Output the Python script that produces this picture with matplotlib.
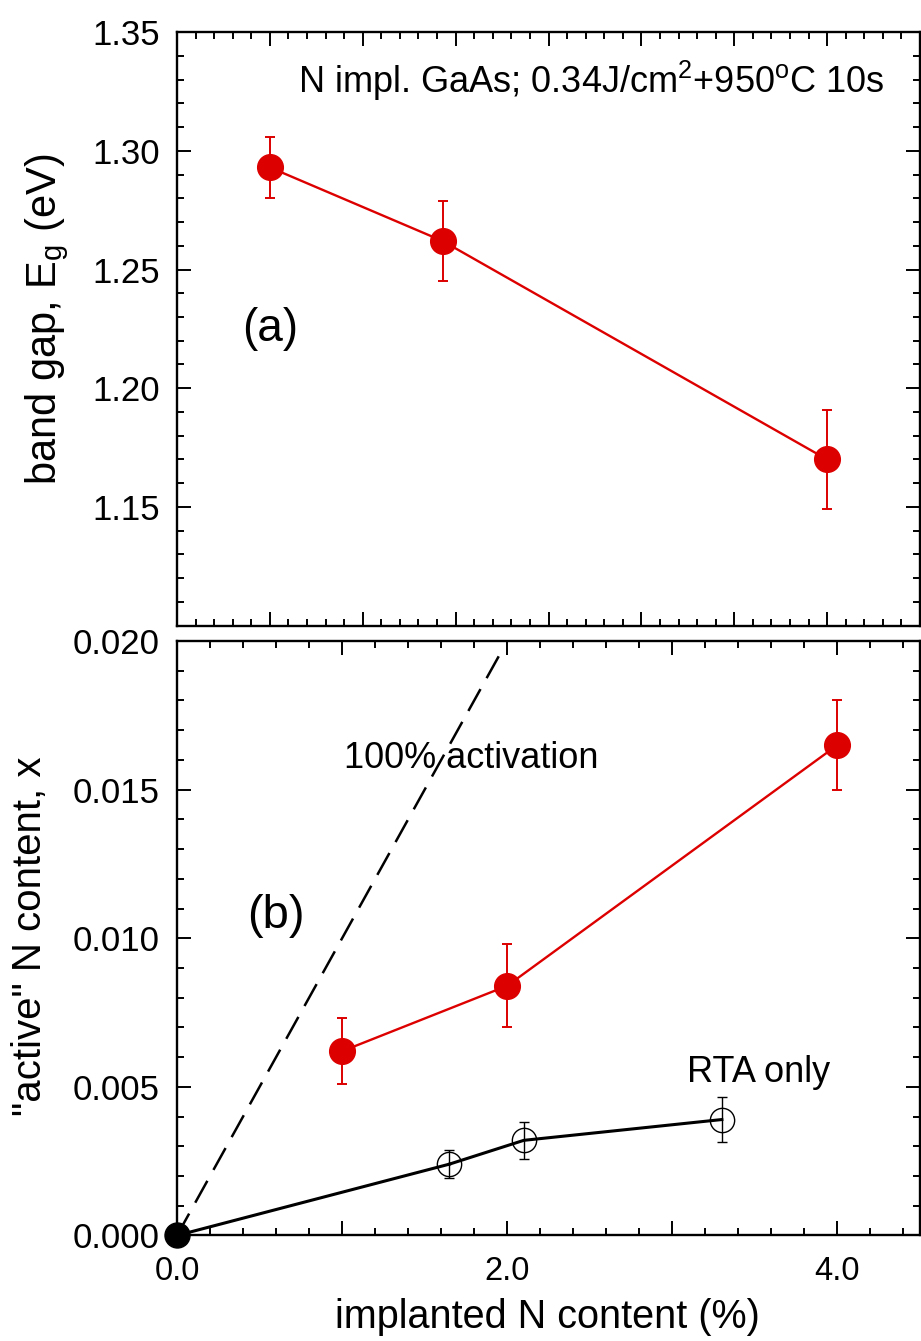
import matplotlib
matplotlib.use("Agg")
import matplotlib.pyplot as plt
from matplotlib.ticker import MultipleLocator, FuncFormatter

plt.rcParams['font.family'] = ['Liberation Sans', 'DejaVu Sans']
plt.rcParams['mathtext.fontset'] = 'custom'
plt.rcParams['mathtext.rm'] = 'Liberation Sans'

# (a) band gap after pulsed laser melting + RTA
gap_x = [1.0, 2.86, 7.0]
gap_e = [1.293, 1.262, 1.170]
gap_err = [0.013, 0.017, 0.021]

# (b) active N content
plm_x = [1.0, 2.0, 4.0]
plm_n = [0.0062, 0.0084, 0.0165]
plm_err = [0.0011, 0.0014, 0.0015]

rta_x = [0.0, 1.65, 2.10, 3.30]
rta_n = [0.0, 0.0024, 0.0032, 0.0039]
rta_err = [0.0, 0.00048, 0.00063, 0.00077]

full_x = [0.0, 1.97]
full_n = [0.0, 0.0197]

RED = '#dd0000'

fig = plt.figure(figsize=(9.21, 13.41), dpi=100)
ax1 = fig.add_axes([0.1922, 0.5334, 0.8067, 0.4427])
ax2 = fig.add_axes([0.1922, 0.0787, 0.8067, 0.4433])


def style(ax):
    for s in ax.spines.values():
        s.set_linewidth(1.7)
    ax.tick_params(which='both', direction='in', top=True, right=True, width=1.4)
    ax.tick_params(which='major', length=10)
    ax.tick_params(which='minor', length=5)
    ax.tick_params(axis='y', labelsize=25, pad=12.5)
    ax.tick_params(axis='x', labelsize=23.5, pad=15)


# ---- top panel ----
ax1.errorbar(gap_x, gap_e, yerr=gap_err, color=RED, lw=1.7, marker='o', ms=18.5,
             mec=RED, mfc=RED, ecolor=RED, elinewidth=1.4, capsize=3.3, capthick=1.4)
ax1.set_xlim(0, 8)
ax1.set_ylim(1.10, 1.35)
ax1.xaxis.set_major_locator(MultipleLocator(1))
ax1.xaxis.set_minor_locator(MultipleLocator(0.2))
ax1.yaxis.set_major_locator(MultipleLocator(0.05))
ax1.yaxis.set_minor_locator(MultipleLocator(0.01))
ax1.yaxis.set_major_formatter(FuncFormatter(lambda v, p: "" if v < 1.125 else f"{v:.2f}"))
style(ax1)
ax1.tick_params(axis='x', labelbottom=False)
ax1.set_ylabel(r"band gap, E$_\mathregular{g}$ (eV)", fontsize=30)
ax1.yaxis.label.set_va('baseline')
ax1.yaxis.set_label_coords(-0.163, 0.517)
ax1.text(0.163, 0.897, r"N impl. GaAs; 0.34J/cm$^\mathregular{2}$+950$^\mathregular{o}$C 10s",
         transform=ax1.transAxes, ha='left', va='baseline', fontsize=26)
ax1.text(0.125, 0.50, "(a)", transform=ax1.transAxes, ha='center', va='center', fontsize=33)

# ---- bottom panel ----
ax2.plot(full_x, full_n, color='black', lw=1.8, ls=(0, (10, 5)))
ax2.errorbar(rta_x[1:], rta_n[1:], yerr=rta_err[1:], color='black', lw=2.2, marker='o',
             ms=17.5, mfc='none', mec='black', mew=1.0, ecolor='black',
             elinewidth=1.0, capsize=3.6, capthick=1.0, zorder=3)
ax2.plot(rta_x[:2], rta_n[:2], color='black', lw=2.2, zorder=3)
ax2.plot(rta_x[0], rta_n[0], marker='o', ms=18, color='black', clip_on=False, zorder=5)
ax2.errorbar(plm_x, plm_n, yerr=plm_err, color=RED, lw=1.7, marker='o', ms=18.5,
             mec=RED, mfc=RED, ecolor=RED, elinewidth=1.4, capsize=3.3, capthick=1.4)
ax2.set_xlim(0, 4.5)
ax2.set_ylim(0, 0.020)
ax2.xaxis.set_major_locator(MultipleLocator(1))
ax2.xaxis.set_minor_locator(MultipleLocator(0.2))
ax2.yaxis.set_major_locator(MultipleLocator(0.005))
ax2.yaxis.set_minor_locator(MultipleLocator(0.001))
ax2.xaxis.set_major_formatter(FuncFormatter(lambda v, p: f"{v:.1f}" if round(v) % 2 == 0 else ""))
ax2.yaxis.set_major_formatter(FuncFormatter(lambda v, p: f"{v:.3f}"))
style(ax2)
ax2.set_xlabel("implanted N content (%)", fontsize=28.5)
ax2.xaxis.label.set_va('baseline')
ax2.xaxis.set_label_coords(0.498, -0.1556)
ax2.set_ylabel('"active" N content, x', fontsize=29)
ax2.yaxis.label.set_va('baseline')
ax2.yaxis.set_label_coords(-0.1828, 0.504)
ax2.text(0.2254, 0.803, "100% activation", transform=ax2.transAxes, ha='left', va='center', fontsize=26)
ax2.text(0.1324, 0.537, "(b)", transform=ax2.transAxes, ha='center', va='center', fontsize=34)
ax2.text(0.686, 0.258, "RTA only", transform=ax2.transAxes, ha='left', va='baseline', fontsize=26)

fig.savefig("out.png", dpi=100)
